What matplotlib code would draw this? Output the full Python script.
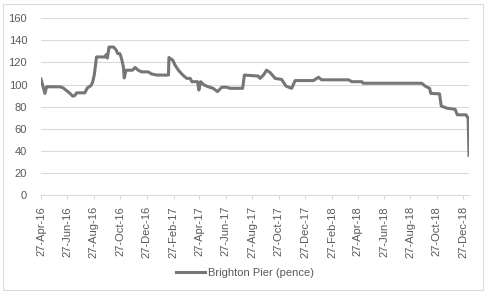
import matplotlib
matplotlib.use('Agg')
import matplotlib.pyplot as plt
import matplotlib.dates as mdates
import pandas as pd
from matplotlib.patches import Rectangle

# Breakpoints of the share price line
DATES = [
    '2016-04-27', '2016-05-06', '2016-05-10', '2016-06-10', '2016-06-17',
    '2016-06-25', '2016-07-03', '2016-07-09', '2016-07-14', '2016-07-18',
    '2016-08-06', '2016-08-12', '2016-08-20', '2016-08-24', '2016-08-28',
    '2016-09-02', '2016-09-22', '2016-09-24', '2016-09-27', '2016-10-01',
    '2016-10-11', '2016-10-17', '2016-10-21', '2016-10-26', '2016-10-30',
    '2016-11-03', '2016-11-05', '2016-11-09', '2016-11-24', '2016-11-30',
    '2016-12-07', '2016-12-15', '2016-12-30', '2017-01-07', '2017-01-19',
    '2017-02-15', '2017-02-16', '2017-02-25', '2017-03-02', '2017-03-10',
    '2017-03-20', '2017-03-29', '2017-04-06', '2017-04-10', '2017-04-23',
    '2017-04-26', '2017-04-30', '2017-05-08', '2017-05-18', '2017-05-29',
    '2017-06-08', '2017-06-18', '2017-06-29', '2017-07-07', '2017-08-05',
    '2017-08-09', '2017-09-10', '2017-09-14', '2017-09-22', '2017-09-29',
    '2017-10-07', '2017-10-19', '2017-11-03', '2017-11-13', '2017-11-26',
    '2017-12-04', '2018-01-15', '2018-01-27', '2018-02-03', '2018-04-06',
    '2018-04-14', '2018-05-07', '2018-05-10', '2018-09-22', '2018-09-30',
    '2018-10-10', '2018-10-13', '2018-11-02', '2018-11-06', '2018-11-19',
    '2018-12-08', '2018-12-13', '2019-01-02', '2019-01-07', '2019-01-09',
]
PENCE = [
    105, 92, 98, 98, 97,
    94.5, 92, 89.5, 90, 92.5,
    92.5, 97, 99, 102, 109,
    125, 125, 127, 124, 134,
    134, 131.5, 128, 128, 123,
    116, 106, 113, 113, 115.5,
    113, 111.5, 111.5, 109.6, 108.6,
    108.6, 124.5, 122, 117.7, 113,
    108.6, 105.6, 105.6, 102.6, 102.6,
    95, 102.6, 99.6, 98, 96.6,
    93.6, 97.6, 97.6, 96.6, 96.6,
    108.6, 107.7, 105.6, 108.6, 113,
    111, 105.6, 104.6, 98.6, 96.6,
    103.6, 103.6, 106.6, 104.3, 104.3,
    102.6, 102.6, 101.2, 101.2, 98.6,
    96.6, 92, 91.6, 80.6, 78.6,
    77.6, 72.6, 72.6, 69.6, 36,
]
SERIES = 'Brighton Pier (pence)'
TICK_DATES = pd.date_range('2016-04-01', '2018-12-01', freq='2MS') + pd.Timedelta(days=26)
Y_TICKS = [0, 20, 40, 60, 80, 100, 120, 140, 160]

plt.rcParams['font.family'] = ['Liberation Sans', 'DejaVu Sans']
TXT = '#595959'

fig = plt.figure(figsize=(4.89, 2.96), dpi=100)
fig.patches.append(Rectangle((3 / 489, 6 / 296), 480 / 489, 286 / 296,
                             transform=fig.transFigure, fill=False,
                             edgecolor='#d9d9d9', linewidth=0.75))
ax = fig.add_axes([41 / 489, 1 - 195 / 296, 428 / 489, (195 - 18.3) / 296])

dates = pd.to_datetime(DATES)
ax.plot(dates, PENCE, color='#767676', linewidth=2.2, solid_joinstyle='round',
        label=SERIES)

ax.set_xlim(pd.Timestamp('2016-04-27'), pd.Timestamp('2019-01-09'))
ax.set_ylim(0, 160)
ax.set_yticks(Y_TICKS)
ax.set_xticks(TICK_DATES)
ax.xaxis.set_major_formatter(mdates.DateFormatter('%d-%b-%y'))
ax.grid(axis='y', color='#d9d9d9', linewidth=0.75)
ax.set_axisbelow(True)
for s in ['top', 'right', 'left']:
    ax.spines[s].set_visible(False)
ax.spines['bottom'].set_color('#d9d9d9')
ax.spines['bottom'].set_linewidth(0.75)
ax.tick_params(axis='x', colors='#d9d9d9', labelcolor=TXT, labelsize=8,
               length=3, width=0.75, rotation=90, pad=5)
ax.tick_params(axis='y', length=0, labelcolor=TXT, labelsize=8, pad=10)

leg = fig.legend(loc='center', bbox_to_anchor=(245 / 489, 1 - 273 / 296),
                 frameon=False, fontsize=8, handlelength=2.6, handletextpad=0.2)
for t in leg.get_texts():
    t.set_color(TXT)

fig.savefig('out.png', dpi=100)
